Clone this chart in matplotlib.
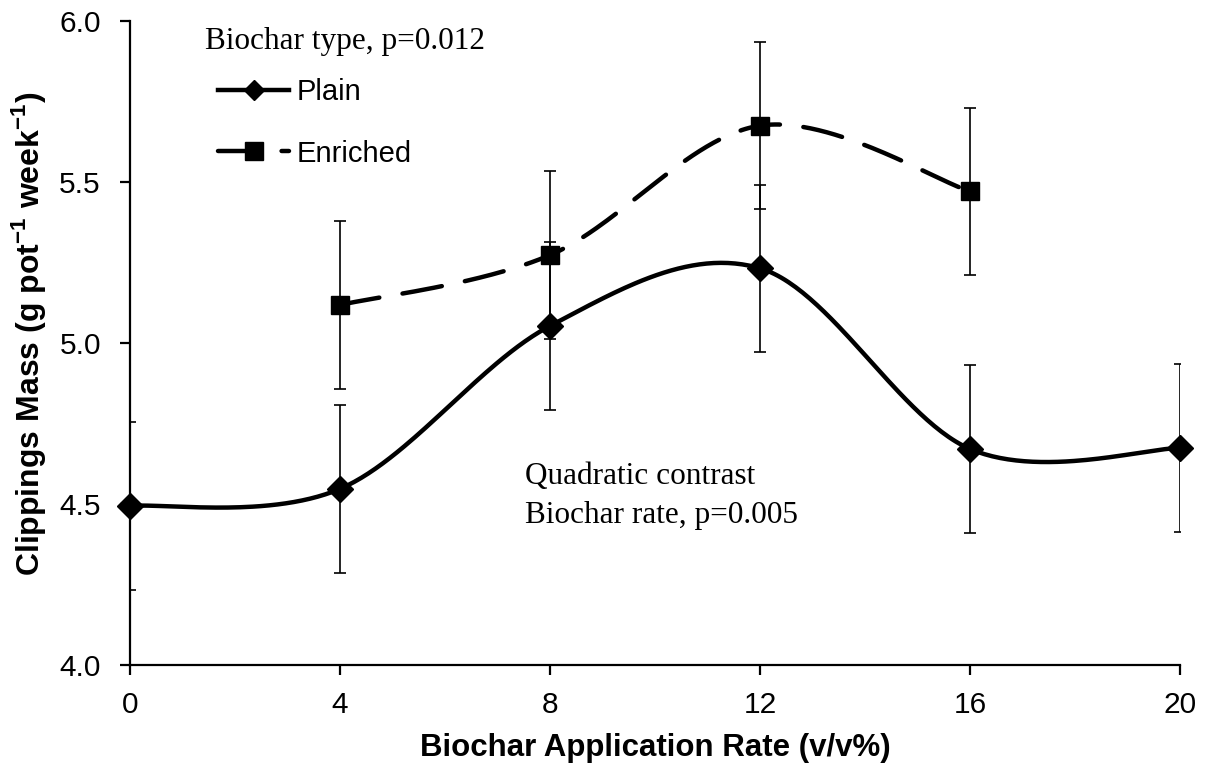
import numpy as np
import matplotlib
matplotlib.use("Agg")
import matplotlib.pyplot as plt

# ---- data ----
rates_plain = [0, 4, 8, 12, 16, 20]
plain_mass = [4.494, 4.547, 5.053, 5.232, 4.671, 4.674]
plain_err = [0.26, 0.26, 0.26, 0.26, 0.26, 0.26]

rates_enriched = [4, 8, 12, 16]
enriched_mass = [5.118, 5.273, 5.675, 5.471]
enriched_err = [0.26, 0.26, 0.26, 0.26]

x_ticks = [0, 4, 8, 12, 16, 20]
y_ticks = [4.0, 4.5, 5.0, 5.5, 6.0]
y_tick_labels = ["4.0", "4.5", "5.0", "5.5", "6.0"]

series_labels = ["Plain", "Enriched"]
note_type = "Biochar type, p=0.012"
note_contrast = "Quadratic contrast"
note_rate = "Biochar rate, p=0.005"
x_label = "Biochar Application Rate (v/v%)"
y_label = r"Clippings Mass (g pot$^{\mathbf{-1}}$ week$^{\mathbf{-1}}$)"

# ---- fonts ----
sans = "Liberation Sans"
serif = "Liberation Serif"
plt.rcParams["mathtext.fontset"] = "custom"
plt.rcParams["mathtext.rm"] = sans
plt.rcParams["mathtext.bf"] = sans + ":bold"


def smooth(xs, ys, n=60):
    """Excel-style smoothed line: cubic Bezier through the points."""
    P = np.column_stack([xs, ys]).astype(float)
    m = len(P)
    out = []
    for i in range(m - 1):
        p0 = P[i - 1] if i > 0 else P[i]
        p1 = P[i]
        p2 = P[i + 1]
        p3 = P[i + 2] if i + 2 < m else P[i + 1]
        c1 = p1 + (p2 - p0) / 6.0
        c2 = p2 - (p3 - p1) / 6.0
        t = np.linspace(0, 1, n)[:, None]
        seg = ((1 - t) ** 3) * p1 + 3 * ((1 - t) ** 2) * t * c1 + 3 * (1 - t) * t ** 2 * c2 + t ** 3 * p2
        out.append(seg if i == 0 else seg[1:])
    a = np.vstack(out)
    return a[:, 0], a[:, 1]


fig = plt.figure(figsize=(12.06, 7.67), dpi=100)
ax = fig.add_axes([130 / 1206, 1 - 665 / 767, 1050 / 1206, 644 / 767])

lw = 3.2
# error bars
ax.errorbar(rates_plain, plain_mass, yerr=plain_err, fmt="none", ecolor="black",
            elinewidth=1.2, capsize=4.5, capthick=1.2, zorder=2)
ax.errorbar(rates_enriched, enriched_mass, yerr=enriched_err, fmt="none", ecolor="black",
            elinewidth=1.2, capsize=4.5, capthick=1.2, zorder=2)

# smoothed lines
sx, sy = smooth(rates_plain, plain_mass)
ax.plot(sx, sy, color="black", lw=lw, solid_capstyle="round", zorder=3)
ex, ey = smooth(rates_enriched, enriched_mass)
ax.plot(ex, ey, color="black", lw=lw, dashes=(9, 5.3), dash_capstyle="round", zorder=3)

# markers
ax.plot(rates_plain, plain_mass, linestyle="none", marker="D", ms=13.5, color="black", zorder=4, clip_on=False)
ax.plot(rates_enriched, enriched_mass, linestyle="none", marker="s", ms=13.5, color="black", zorder=4)

# legend handles
h1, = ax.plot([], [], color="black", lw=lw, marker="D", ms=10)
h2, = ax.plot([], [], color="black", lw=lw, marker="s", ms=13, dashes=(9, 5.3), dash_capstyle="round")
leg = ax.legend([h1, h2], series_labels, loc="upper left",
                bbox_to_anchor=((218 - 130) / 1050, (665 - 78) / 644),
                frameon=False, prop={"family": sans, "size": 21},
                handlelength=2.45, handletextpad=0.25, labelspacing=1.15,
                borderpad=0, borderaxespad=0)

# annotations
ax.text(1.43, 5.937, note_type, family=serif, size=22.5, va="center", ha="left")
ax.text(7.52, 4.585, note_contrast, family=serif, size=22.5, va="center", ha="left")
ax.text(7.52, 4.465, note_rate, family=serif, size=22.5, va="center", ha="left")

# axes
ax.set_xlim(0, 20)
ax.set_ylim(4.0, 6.0)
ax.set_xticks(x_ticks)
ax.set_yticks(y_ticks)
ax.set_yticklabels(y_tick_labels)
for s in ["top", "right"]:
    ax.spines[s].set_visible(False)
for s in ["left", "bottom"]:
    ax.spines[s].set_linewidth(1.6)
ax.tick_params(axis="both", direction="out", length=7, width=1.6, labelsize=21.5)
ax.tick_params(axis="x", pad=12)
ax.tick_params(axis="y", pad=14)
for lab in ax.get_xticklabels() + ax.get_yticklabels():
    lab.set_family(sans)

ax.set_xlabel(x_label, family=sans, weight="bold", size=22.5, labelpad=10)
ax.set_ylabel(y_label, family=sans, weight="bold", size=23)
ax.yaxis.set_label_coords(-0.078, 0.514)

fig.savefig("out.png", dpi=100)
